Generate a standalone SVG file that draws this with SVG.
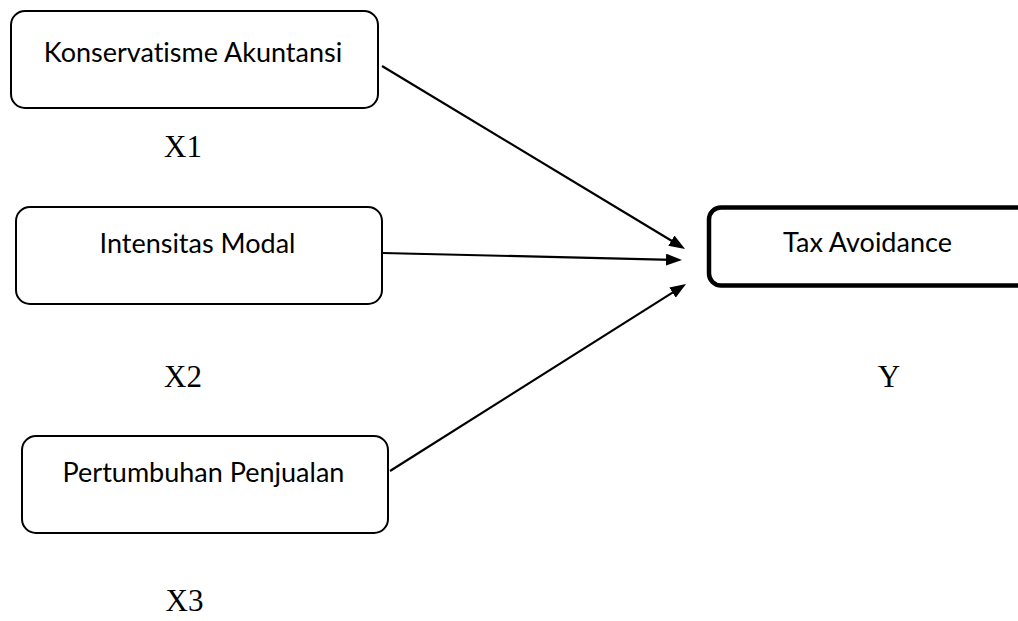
<svg xmlns="http://www.w3.org/2000/svg" width="1018" height="621" viewBox="0 0 1018 621">
<style>
.box{fill:#fff;stroke:#000;stroke-width:2}
.box2{fill:#fff;stroke:#000;stroke-width:4.5}
.lbl{font-family:Lato,"Liberation Sans",sans-serif;font-size:27px;fill:#000;text-anchor:middle;font-variant-ligatures:none;font-feature-settings:"liga" 0}
.var{font-family:"Liberation Serif","Times New Roman",serif;font-size:31px;fill:#000;text-anchor:middle}
.edge{stroke:#000;stroke-width:2.2;fill:none;marker-end:url(#ah)}
</style>
<defs>
<marker id="ah" viewBox="0 0 16 12" refX="6" refY="6" markerWidth="16" markerHeight="12" markerUnits="userSpaceOnUse" orient="auto">
<path d="M0,0 L16,6 L0,12 z" fill="#000"/>
</marker>
</defs>
<rect width="1018" height="621" fill="#fff"/>
<g id="connectors">
<line class="edge" x1="382" y1="66" x2="676.5" y2="243.8"/>
<line class="edge" x1="383" y1="253" x2="672" y2="259.8"/>
<line class="edge" x1="390" y1="471" x2="677.6" y2="289.4"/>
</g>
<g id="n1">
<rect class="box" x="11" y="11" width="367" height="97" rx="14"/>
<text class="lbl" x="193" y="62">Konservatisme Akuntansi</text>
</g>
<g id="n2">
<rect class="box" x="16" y="207" width="366" height="97" rx="14"/>
<text class="lbl" x="197.5" y="253">Intensitas Modal</text>
</g>
<g id="n3">
<rect class="box" x="22" y="436" width="366" height="97" rx="14"/>
<text class="lbl" x="203.5" y="482">Pertumbuhan Penjualan</text>
</g>
<g id="y">
<rect class="box2" x="709" y="207.5" width="340" height="78" rx="12"/>
<text class="lbl" x="867.5" y="252">Tax Avoidance</text>
</g>
<g id="labels">
<text class="var" x="183" y="157">X1</text>
<text class="var" x="183" y="387">X2</text>
<text class="var" x="184.5" y="611">X3</text>
<text class="var" x="889" y="387">Y</text>
</g>
</svg>
